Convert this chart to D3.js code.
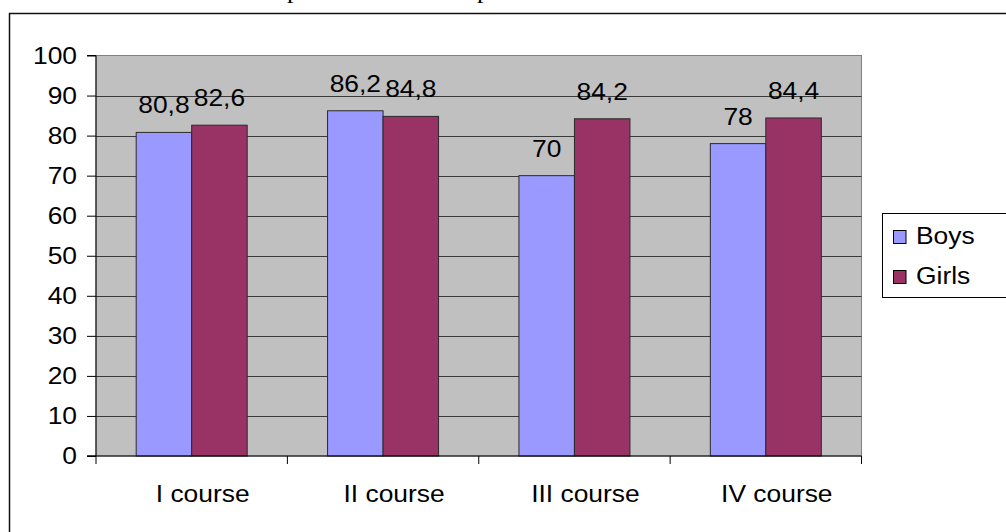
<!DOCTYPE html>
<html>
<head>
<meta charset="utf-8">
<script src="https://cdn.jsdelivr.net/npm/d3@7/dist/d3.min.js"></script>
<style>
  html, body { margin: 0; padding: 0; background: #fff; }
  svg { display: block; }
  text { font-family: "Liberation Sans", Arial, sans-serif; fill: #000; }
</style>
</head>
<body>
<svg id="chart" width="1006" height="532"></svg>
<script>
const categories = ["I course", "II course", "III course", "IV course"];
const seriesNames = ["Boys", "Girls"];
const boys = [80.8, 86.2, 70, 78];
const girls = [82.6, 84.8, 84.2, 84.4];
const yTicks = [0, 10, 20, 30, 40, 50, 60, 70, 80, 90, 100];
const seriesColors = ["#9999FF", "#993366"];
const titleFragments = [{ t: "p", x: 287 }, { t: "p", x: 477 }];

const seriesValues = [boys, girls];
const fmt = v => String(v).replace(".", ",");
const SX = 1.1; // horizontal stretch of the reference lettering
const place = (x, y) => `translate(${x},${y}) scale(${SX},1)`;

const svg = d3.select("#chart");

// cut-off title fragments at the very top
svg.selectAll("text.title").data(titleFragments).join("text")
  .attr("class", "title")
  .attr("x", d => d.x).attr("y", -2)
  .style("font-family", "'Liberation Serif', 'Times New Roman', serif")
  .style("font-size", "26px")
  .text(d => d.t);

// outer chart frame
svg.append("rect")
  .attr("x", 9.5).attr("y", 13.5)
  .attr("width", 1010).attr("height", 540)
  .attr("fill", "#fff").attr("stroke", "#111").attr("stroke-width", 1.5);

const plot = { left: 96, right: 861.5, top: 55.5, bottom: 456 };

const x0 = d3.scaleBand().domain(categories).range([plot.left, plot.right]).padding(0);
const step = x0.step();
const x1 = d3.scaleBand().domain(seriesNames)
  .range([step / 2 - 55.5, step / 2 + 55.5]).padding(0);
const y = d3.scaleLinear().domain([0, 100]).range([plot.bottom, plot.top]);

// plot background
svg.append("rect")
  .attr("x", plot.left).attr("y", plot.top)
  .attr("width", plot.right - plot.left).attr("height", plot.bottom - plot.top)
  .attr("fill", "#C0C0C0").attr("stroke", "#808080").attr("stroke-width", 1);

// gridlines
svg.append("g").selectAll("line").data(yTicks.filter(t => t > 0 && t < 100)).join("line")
  .attr("x1", plot.left).attr("x2", plot.right)
  .attr("y1", d => Math.round(y(d)) + 0.5).attr("y2", d => Math.round(y(d)) + 0.5)
  .attr("stroke", "#3a3a3a").attr("stroke-width", 1);

// bars
const groups = svg.append("g").selectAll("g").data(categories).join("g")
  .attr("transform", d => `translate(${x0(d)},0)`);

groups.selectAll("rect").data((c, i) => seriesNames.map((s, j) => ({ s, j, v: seriesValues[j][i] })))
  .join("rect")
  .attr("x", d => x1(d.s)).attr("width", x1.bandwidth())
  .attr("y", d => y(d.v)).attr("height", d => y(0) - y(d.v))
  .attr("fill", d => seriesColors[d.j])
  .attr("stroke", "#2a2a2a").attr("stroke-width", 1);

groups.selectAll("text").data((c, i) => seriesNames.map((s, j) => ({ s, j, v: seriesValues[j][i] })))
  .join("text")
  .attr("transform", d => place(x1(d.s) + x1.bandwidth() / 2, y(d.v) - 19))
  .attr("text-anchor", "middle")
  .style("font-size", "24px")
  .text(d => fmt(d.v));

// y axis
const yAxis = d3.axisLeft(y).tickValues(yTicks).tickSize(9).tickFormat("");
const gy = svg.append("g").attr("transform", `translate(${plot.left},0)`).call(yAxis);
gy.select(".domain").attr("stroke", "#000").attr("d", `M-9,${y(100)}H0V${y(0)}H-9`);
gy.selectAll(".tick line").attr("stroke", "#000");
gy.selectAll(".tick text").remove();
gy.selectAll("text.yl").data(yTicks).join("text").attr("class", "yl")
  .attr("transform", d => place(-19, y(d)))
  .attr("dy", "0.35em")
  .attr("text-anchor", "end")
  .style("font-size", "24px")
  .text(d => d);

// x axis
const gx = svg.append("g").attr("transform", `translate(0,${plot.bottom})`);
gx.append("line").attr("x1", plot.left - 9).attr("x2", plot.right)
  .attr("y1", 0).attr("y2", 0).attr("stroke", "#000").attr("stroke-width", 1);
const xTickPos = categories.map(c => x0(c)).concat([x0(categories[categories.length - 1]) + step]);
gx.selectAll("line.tk").data(xTickPos).join("line").attr("class", "tk")
  .attr("x1", d => d).attr("x2", d => d).attr("y1", 0).attr("y2", 8)
  .attr("stroke", "#000");
gx.selectAll("text").data(categories).join("text")
  .attr("transform", d => place(x0(d) + step / 2 + 11, 45.5))
  .attr("text-anchor", "middle").style("font-size", "24px")
  .text(d => d);

// legend
const lg = svg.append("g");
lg.append("rect").attr("x", 882.5).attr("y", 213.5).attr("width", 140).attr("height", 84)
  .attr("fill", "#fff").attr("stroke", "#000").attr("stroke-width", 1);
const li = lg.selectAll("g").data(seriesNames).join("g")
  .attr("transform", (d, i) => `translate(0,${244 + i * 40})`);
li.append("rect").attr("x", 893.5).attr("y", -13.5).attr("width", 12.5).attr("height", 13)
  .attr("fill", (d, i) => seriesColors[i]).attr("stroke", "#000").attr("stroke-width", 1);
li.append("text").attr("transform", place(916, 0)).style("font-size", "24px").text(d => d);
</script>
</body>
</html>
